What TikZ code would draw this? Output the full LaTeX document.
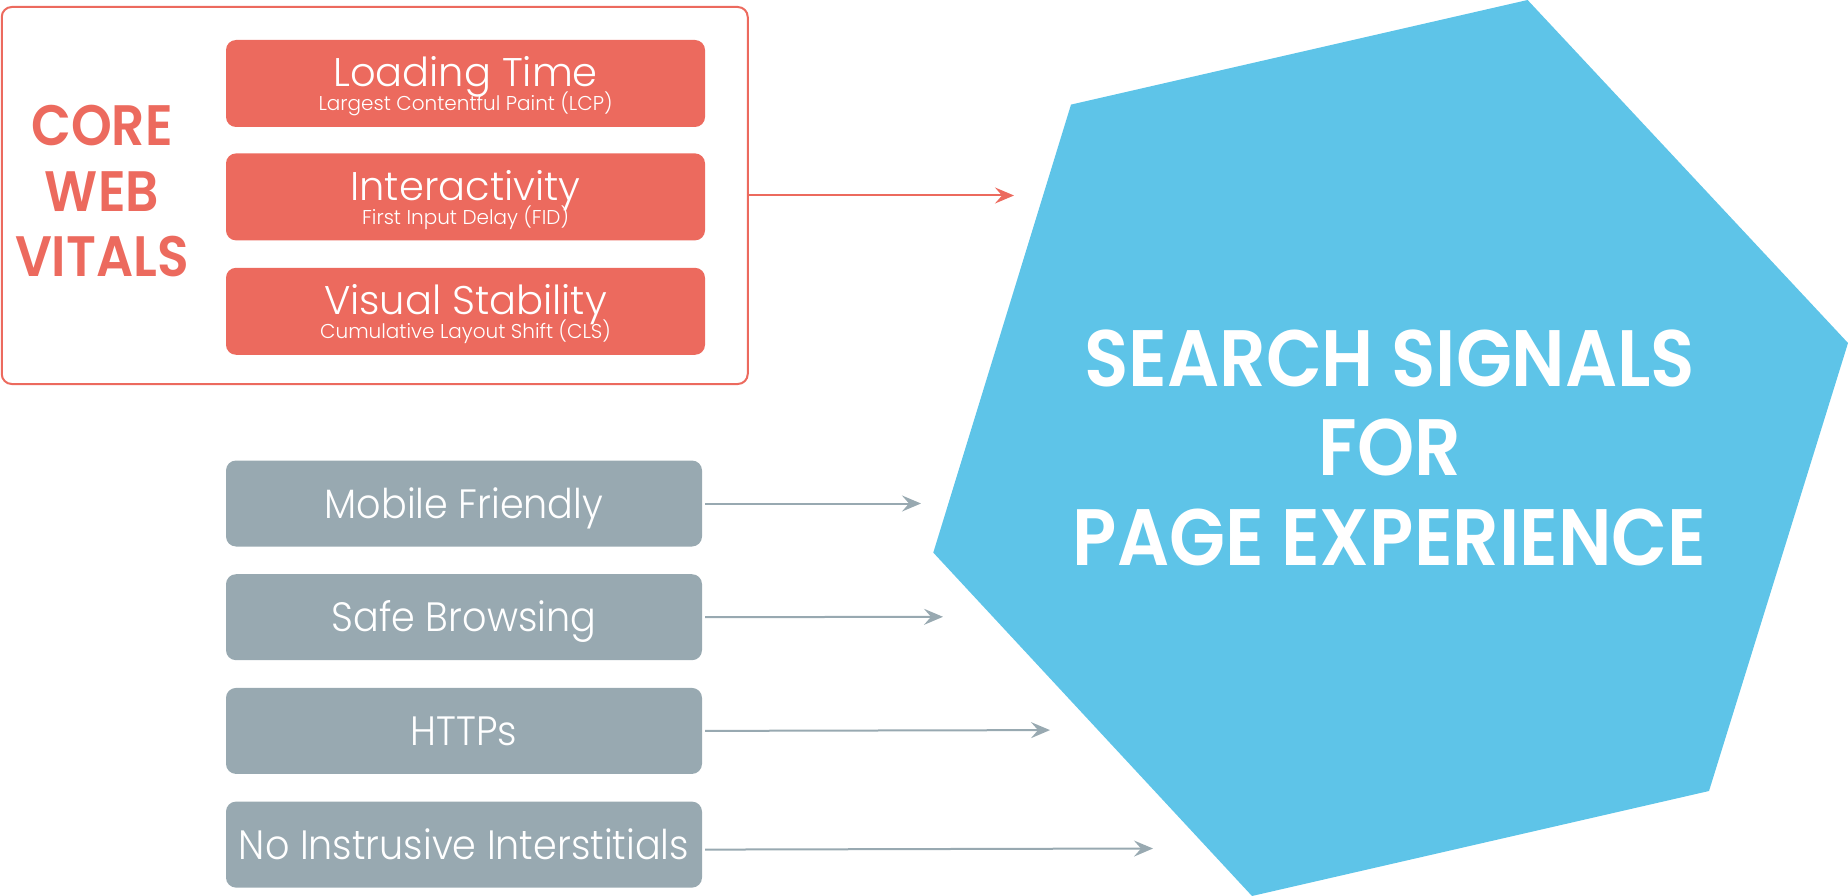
\documentclass[tikz,border=0pt]{standalone}
\usepackage{fontspec}
\newfontfamily\gothic{Poppins Light}
\newfontfamily\gothicnarrow[FakeStretch=0.93]{Poppins Light}
\newfontfamily\gothicbold[FakeStretch=0.91]{Poppins SemiBold}
\usetikzlibrary{arrows.meta,positioning}
\definecolor{cwvred}{HTML}{EC6A5E}
\definecolor{signalgray}{HTML}{98A9B1}
\definecolor{hexblue}{HTML}{5EC4E8}
\tikzset{
  frame/.style={draw=cwvred, line width=2pt, rounded corners=10pt, minimum width=746pt, minimum height=377pt, inner sep=0pt},
  vital/.style={fill=cwvred, rounded corners=10pt, minimum width=479pt, minimum height=87pt, inner sep=0pt},
  vtitle/.style={anchor=base, text=white, inner sep=0pt, font=\gothic\fontsize{40}{40}\selectfont},
  vsub/.style={anchor=base, text=white, inner sep=0pt, font=\gothic\fontsize{20}{20}\selectfont},
  signal/.style={fill=signalgray, rounded corners=10pt, minimum width=476pt, minimum height=86pt, inner sep=0pt, text=white, text height=29pt, text depth=0pt, font=\gothicnarrow\fontsize{41}{41}\selectfont},
  arrow/.style={-{Stealth[length=19pt,width=16pt,inset=7pt]}, line width=2pt, shorten <=3pt},
  coretext/.style={text=cwvred, align=center, inner sep=0pt, font=\gothicbold\fontsize{57}{65.5}\selectfont},
  hextext/.style={text=white, align=center, inner sep=0pt, font=\gothicbold\fontsize{80}{89.5}\selectfont}
}

\begin{document}
\begin{tikzpicture}[x=1pt, y=-1pt, node distance=26pt]
\useasboundingbox (0,0) rectangle (1848,896);

% the hexagon
\fill[hexblue] (1527.6,0) -- (1848,343) -- (1709,791) -- (1252,896) -- (933.3,552.6) -- (1071,104.6) -- cycle;
\node[hextext] (signals) at (1389.8,447.5) {SEARCH SIGNALS\\FOR\\PAGE EXPERIENCE};

% core web vitals
\node[frame] (cwv) at (374.75,195.5) {};
\node[coretext] (cwvlabel) at (102,191.5) {CORE\\WEB\\VITALS};

\node[vital] (load) at (465.5,83.5) {};
\node[vital, below=26pt of load] (inter) {};
\node[vital, below=27pt of inter] (visual) {};
\node[vtitle] (loadT) at ([yshift=-3.5pt]load.center) {Loading Time};
\node[vsub] (loadS) at ([yshift=-27.5pt]load.center) {Largest Contentful Paint (LCP)};
\node[vtitle] (interT) at ([yshift=-3.5pt]inter.center) {Interactivity};
\node[vsub] (interS) at ([yshift=-27.5pt]inter.center) {First Input Delay (FID)};
\node[vtitle] (visualT) at ([yshift=-3.5pt]visual.center) {Visual Stability};
\node[vsub] (visualS) at ([yshift=-27.5pt]visual.center) {Cumulative Layout Shift (CLS)};

% other signals
\node[signal] (mobile) at (464,503.5) {Mobile Friendly};
\node[signal, below=27.3pt of mobile] (safe) {Safe Browsing};
\node[signal, below=27.3pt of safe] (https) {HTTPs};
\node[signal, below=27.3pt of https] (nointer) {No Instrusive Interstitials};

% arrow ends
\coordinate (cwvtip) at (1014,195.5);
\coordinate (mobiletip) at (921,503.5);
\coordinate (safetip) at (943,616.8);
\coordinate (httpstip) at (1050,730.1);
\coordinate (nointertip) at (1153,848.5);

\draw[arrow, cwvred, shorten <=0pt] (cwv.east) -- (cwvtip);
\draw[arrow, signalgray] (mobile.east) -- (mobiletip);
\draw[arrow, signalgray] (safe.east) -- (safetip);
\draw[arrow, signalgray] (https.east) -- (httpstip);
\draw[arrow, signalgray] ([yshift=-5pt]nointer.east) -- (nointertip);
\end{tikzpicture}
\end{document}
